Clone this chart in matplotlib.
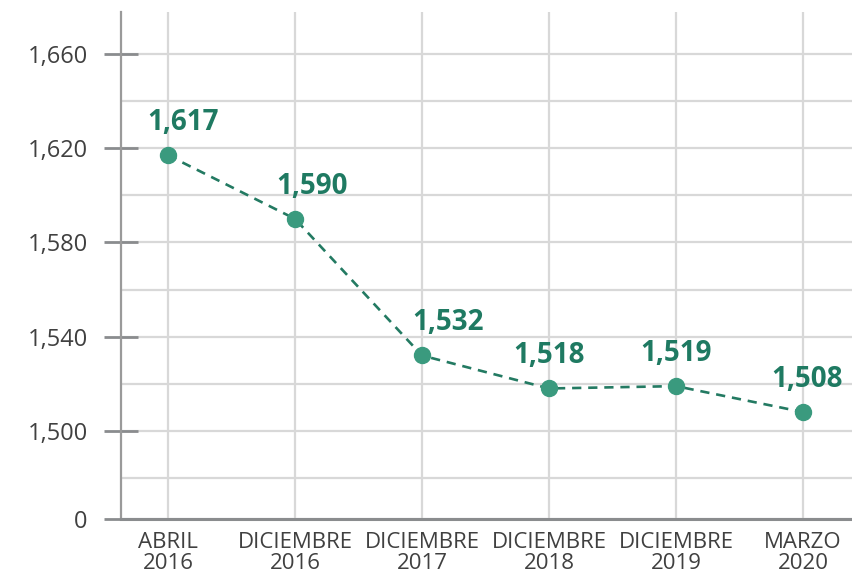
import numpy as np
import matplotlib
matplotlib.use("Agg")
import matplotlib.pyplot as plt
from matplotlib.ticker import FuncFormatter

periods = ["ABRIL\n2016", "DICIEMBRE\n2016", "DICIEMBRE\n2017",
           "DICIEMBRE\n2018", "DICIEMBRE\n2019", "MARZO\n2020"]
values = [1617, 1590, 1532, 1518, 1519, 1508]
y_ticks = [0, 1500, 1540, 1580, 1620, 1660]
y_minor = [1520, 1560, 1600, 1640]

# label nudges (points) so they sit like the original
label_dx = [11, 12, 19, 0, 0, 3]

plt.rcParams["font.family"] = ["Open Sans", "DejaVu Sans"]

# broken axis: 0 squeezed under 1500, 20 units per step above it
GAP = 1.87


def fwd(v):
    v = np.asarray(v, dtype=float)
    return np.where(v >= 1500, (v - 1500) / 20.0, (v - 1500) / 1500.0 * GAP)


def inv(p):
    p = np.asarray(p, dtype=float)
    return np.where(p >= 0, 1500 + 20.0 * p, 1500 + p * 1500.0 / GAP)


fig = plt.figure(figsize=(8.53, 5.82), dpi=100)
ax = fig.add_axes([121 / 853, 1 - 519 / 582, 1 - 121 / 853, (519 - 12) / 582])
ax.set_yscale("function", functions=(fwd, inv))

x = np.arange(len(values))
ax.plot(x, values, color="#237a62", lw=1.9, ls=(0, (3.5, 2.6)), zorder=3)
ax.plot(x, values, "o", color="#3a9a7e", ms=11.5, zorder=4)

for i, v in enumerate(values):
    ax.annotate(f"{v:,}", (i, v), xytext=(label_dx[i], 18), textcoords="offset points",
                ha="center", va="baseline", fontsize=20, fontweight="bold",
                color="#1f7a62", zorder=5)

ax.set_xlim(-0.37, 5.394)
ax.set_ylim(0, float(inv(8.89)))

ax.set_yticks(y_ticks)
ax.yaxis.set_major_formatter(FuncFormatter(lambda v, p: f"{v:,.0f}"))
ax.set_yticks([float(inv(-1))] + y_minor, minor=True)
ax.set_xticks(x)
ax.set_xticklabels(periods)

ax.grid(True, which="both", axis="y", color="#d8d8d8", lw=1.6, zorder=0)
ax.grid(True, which="major", axis="x", color="#d8d8d8", lw=1.6, zorder=0)

ax.tick_params(axis="y", which="major", direction="inout", length=24, width=2,
               color="#8a8c8e", labelsize=17, labelcolor="#404040", pad=12)
ax.tick_params(axis="y", which="minor", length=0)
ax.tick_params(axis="x", length=0, labelsize=16, labelcolor="#404040", pad=9)
for lab in ax.get_xticklabels():
    lab.set_linespacing(1.05)

for s in ["top", "right"]:
    ax.spines[s].set_visible(False)
ax.spines["left"].set_color("#9a9a9a")
ax.spines["left"].set_linewidth(1.6)
ax.spines["bottom"].set_color("#8a8c8e")
ax.spines["bottom"].set_linewidth(2.2)

fig.savefig("out.png", dpi=100)
